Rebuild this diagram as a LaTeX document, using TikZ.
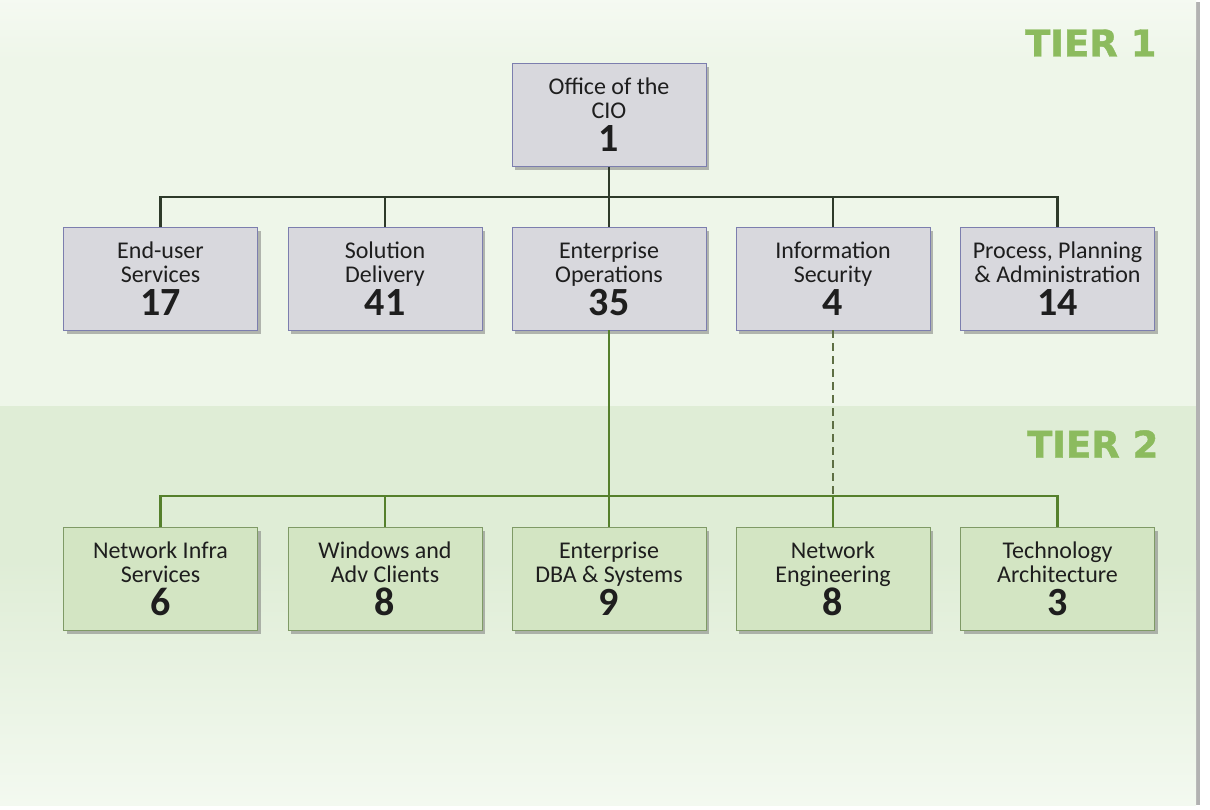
\documentclass[tikz,border=0pt]{standalone}
\usepackage{fontspec}
\setmainfont{Carlito}
\newfontfamily\tierfont[FakeBold=1.2]{DejaVu Sans Bold}
\usetikzlibrary{shadows}
\definecolor{bgone}{HTML}{EEF6E9}
\definecolor{bgtwo}{HTML}{DFEDD6}
\definecolor{bgfade}{HTML}{F3F9F0}
\definecolor{grayfill}{HTML}{D8D8DD}
\definecolor{grayedge}{HTML}{7C7EAE}
\definecolor{greenfill}{HTML}{D3E5C3}
\definecolor{greenedge}{HTML}{7F9A66}
\definecolor{tiergreen}{HTML}{8CBB5E}
\definecolor{linegreen}{HTML}{55802C}
\definecolor{linedark}{HTML}{2E3A2A}
\definecolor{dashgreen}{HTML}{5E6F44}
\definecolor{inktext}{HTML}{1E1E1E}
\newcommand{\unitfont}{\fontsize{24}{24}\selectfont}
\newcommand{\unitnum}[1]{\\[9pt]{\fontsize{40}{40}\selectfont\bfseries #1}}
\tikzset{
  unit/.style={draw, line width=0.8pt, minimum width=194pt, minimum height=103pt,
    align=center, inner sep=2pt, font=\unitfont, text=inktext,
    drop shadow={shadow xshift=3pt, shadow yshift=-4pt, fill=black!55, opacity=0.5}},
  tierone/.style={unit, fill=grayfill, draw=grayedge},
  tiertwo/.style={unit, fill=greenfill, draw=greenedge},
  tierlabel/.style={text=tiergreen, font=\tierfont\fontsize{37}{37}\selectfont, anchor=east},
  linkone/.style={draw=linedark, line width=2.4pt},
  linktwo/.style={draw=linegreen, line width=2.4pt},
}
\begin{document}
\lineskiplimit=-100pt
\begin{tikzpicture}[x=1pt,y=-1pt]
  \useasboundingbox (0,0) rectangle (1210,810);
  % panel and tier bands
  \fill[white] (0,0) rectangle (1210,810);
  \fill[gray!60] (1196,2) rectangle (1200,805);
  \fill[bgone] (0,0) rectangle (1196,406);
  \fill[bgtwo] (0,406) rectangle (1196,560);
  \shade[top color=bgtwo, bottom color=bgfade] (0,560) rectangle (1196,805);
  \shade[top color=white!40!bgone, bottom color=bgone] (0,0) rectangle (1196,60);

  \node[tierlabel] (t1) at (1160,43) {TIER 1};
  \node[tierlabel] (t2) at (1162,444) {TIER 2};

  % tier 1
  \node[tierone] (cio) at (609,115) {Office of the\\CIO\unitnum{1}};
  \node[tierone] (eus) at (160.5,278.5) {End-user\\Services\unitnum{17}};
  \node[tierone] (sol) at (385,278.5) {Solution\\Delivery\unitnum{41}};
  \node[tierone] (eop) at (609,278.5) {Enterprise\\Operations\unitnum{35}};
  \node[tierone] (isec) at (833,278.5) {Information\\Security\unitnum{4}};
  \node[tierone] (ppa) at (1057.5,278.5) {Process, Planning\\\& Administration\unitnum{14}};

  % tier 2
  \node[tiertwo] (nis) at (160.5,578.5) {Network Infra\\Services\unitnum{6}};
  \node[tiertwo] (wac) at (385,578.5) {Windows and\\Adv Clients\unitnum{8}};
  \node[tiertwo] (dba) at (609,578.5) {Enterprise\\DBA \& Systems\unitnum{9}};
  \node[tiertwo] (neng) at (833,578.5) {Network\\Engineering\unitnum{8}};
  \node[tiertwo] (tarch) at (1057.5,578.5) {Technology\\Architecture\unitnum{3}};

  % bus coordinates
  \coordinate (busone) at (609,197);
  \coordinate (bustwo) at (609,496);

  % tier 1 connectors
  \draw[linkone] (cio.south) -- (busone);
  \draw[linkone] (eus.north) |- (busone) -| (ppa.north);
  \draw[linkone] (sol.north) -- (sol.north |- busone);
  \draw[linkone] (eop.north) -- (eop.north |- busone);
  \draw[linkone] (isec.north) -- (isec.north |- busone);

  % tier 2 connectors
  \draw[linktwo] (eop.south) -- (bustwo);
  \draw[linktwo] (nis.north) |- (bustwo) -| (tarch.north);
  \draw[linktwo] (wac.north) -- (wac.north |- bustwo);
  \draw[linktwo] (dba.north) -- (dba.north |- bustwo);
  \draw[draw=dashgreen, line width=2.6pt, dash pattern=on 8pt off 5pt] (isec.south) -- (isec.south |- bustwo);
  \draw[linktwo] (neng.north) -- (neng.north |- bustwo);
\end{tikzpicture}
\end{document}
